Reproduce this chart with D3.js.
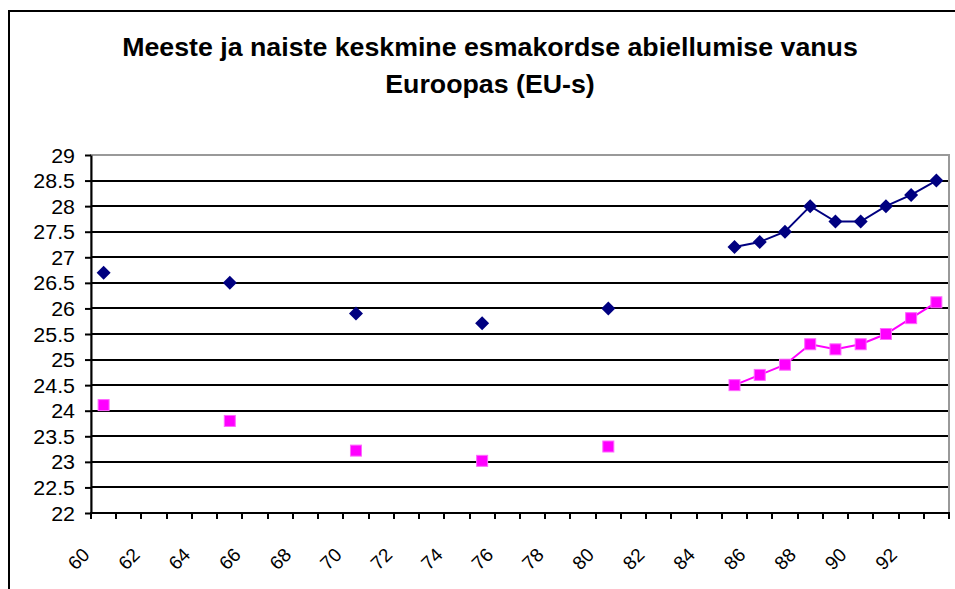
<!DOCTYPE html>
<html>
<head>
<meta charset="utf-8">
<script src="https://cdn.jsdelivr.net/npm/d3@7"></script>
<style>
  html, body { margin: 0; padding: 0; background: #fff; }
  svg { display: block; }
</style>
</head>
<body>
<script>
// chart data (years 1960..1993, null = no value)
const years = d3.range(1960, 1994)
const yearLabels = years.map(y => String(y).slice(2))
const menAge = [
  26.7, null, null, null, null, 26.5, null, null, null, null,
  25.9, null, null, null, null, 25.71, null, null, null, null,
  26.0, null, null, null, null, 27.2, 27.3, 27.5, 28.0, 27.7,
  27.7, 28.0, 28.22, 28.5
]
const womenAge = [
  24.11, null, null, null, null, 23.8, null, null, null, null,
  23.22, null, null, null, null, 23.02, null, null, null, null,
  23.3, null, null, null, null, 24.5, 24.7, 24.9, 25.3, 25.2,
  25.3, 25.5, 25.81, 26.12
]
const yTicks = d3.range(22, 29.01, 0.5)
const titleLines = ['Meeste ja naiste keskmine esmakordse abiellumise vanus', 'Euroopas (EU-s)']

const width = 955, height = 589
const plot = { left: 91, right: 949, top: 155, bottom: 513 }
const stretch = 1.07 // the picture is a bit wider than tall

const svg = d3.select('body').append('svg')
  .attr('width', width).attr('height', height)
  .style('font-family', 'Liberation Sans, Arial, sans-serif')

// outer chart frame (only top and left visible)
svg.append('line').attr('x1', 9).attr('y1', 11).attr('x2', width).attr('y2', 11)
  .attr('stroke', '#000').attr('stroke-width', 2)
svg.append('line').attr('x1', 9).attr('y1', 10).attr('x2', 9).attr('y2', height)
  .attr('stroke', '#000').attr('stroke-width', 2)

// title
titleLines.forEach((t, i) => {
  svg.append('text')
    .attr('transform', `translate(490, ${56 + i * 37}) scale(${stretch}, 1)`)
    .attr('text-anchor', 'middle')
    .attr('font-size', '25px').attr('font-weight', 'bold').attr('fill', '#000')
    .text(t)
})

const x = d3.scaleBand().domain(yearLabels).range([plot.left, plot.right]).padding(0)
const y = d3.scaleLinear().domain([22, 29]).range([plot.bottom, plot.top])
const cx = i => x(yearLabels[i]) + x.bandwidth() / 2

// plot area border (gray)
svg.append('rect')
  .attr('x', plot.left).attr('y', plot.top)
  .attr('width', plot.right - plot.left).attr('height', plot.bottom - plot.top)
  .attr('fill', '#fff').attr('stroke', '#999').attr('stroke-width', 2)

// gridlines
yTicks.filter(v => v > 22 && v < 29).forEach(v => {
  svg.append('line')
    .attr('x1', plot.left).attr('x2', plot.right - 1)
    .attr('y1', Math.round(y(v))).attr('y2', Math.round(y(v)))
    .attr('stroke', '#000').attr('stroke-width', 2)
})

// y axis
const yAxis = svg.append('g').attr('transform', `translate(${plot.left}, 0)`)
  .call(d3.axisLeft(y).tickValues(yTicks).tickSize(6).tickSizeOuter(0).tickFormat(d3.format('')))
yAxis.select('.domain').attr('stroke', '#000').attr('stroke-width', 2)
yAxis.selectAll('.tick line').attr('stroke', '#000').attr('stroke-width', 2)
yAxis.selectAll('.tick text')
  .attr('x', null).attr('dy', null)
  .attr('transform', `translate(-16, 7) scale(${stretch}, 1)`)
  .attr('font-size', '20px').attr('font-family', 'Liberation Sans, Arial, sans-serif')
  .attr('fill', '#000')

// x axis: ticks between categories, labels on every 2nd category
const xAxis = svg.append('g').attr('transform', `translate(0, ${plot.bottom})`)
xAxis.append('line').attr('x1', plot.left - 1).attr('x2', plot.right + 1)
  .attr('stroke', '#000').attr('stroke-width', 2)
yearLabels.forEach(lab => {
  const xt = Math.round(x(lab))
  xAxis.append('line').attr('x1', xt).attr('x2', xt).attr('y1', 0).attr('y2', 6)
    .attr('stroke', '#000').attr('stroke-width', 2)
})
xAxis.append('line').attr('x1', plot.right).attr('x2', plot.right).attr('y1', 0).attr('y2', 6)
  .attr('stroke', '#000').attr('stroke-width', 2)
yearLabels.forEach((lab, i) => {
  if (i % 2) return
  xAxis.append('text')
    .attr('transform', `translate(${cx(i) - 13}, 43) rotate(-45)`)
    .attr('text-anchor', 'end')
    .attr('font-size', '19px').attr('fill', '#000')
    .text(lab)
})

// series
const series = [
  { values: menAge, color: '#000080', shape: 'diamond' },
  { values: womenAge, color: '#FF00FF', shape: 'square' },
]
series.forEach(s => {
  const line = d3.line()
    .defined(d => d != null)
    .x((d, i) => cx(i))
    .y(d => y(d))
  svg.append('path')
    .attr('d', line(s.values))
    .attr('fill', 'none').attr('stroke', s.color).attr('stroke-width', 2)

  s.values.forEach((v, i) => {
    if (v == null) return
    if (s.shape === 'diamond') {
      const r = 7
      svg.append('path')
        .attr('d', `M${cx(i)},${y(v) - r}L${cx(i) + r},${y(v)}L${cx(i)},${y(v) + r}L${cx(i) - r},${y(v)}Z`)
        .attr('fill', s.color)
    } else {
      const h = 5.5
      svg.append('rect')
        .attr('x', cx(i) - h).attr('y', y(v) - h)
        .attr('width', h * 2).attr('height', h * 2)
        .attr('fill', s.color).attr('stroke', '#ff66ff').attr('stroke-width', 1)
    }
  })
})
</script>
</body>
</html>
